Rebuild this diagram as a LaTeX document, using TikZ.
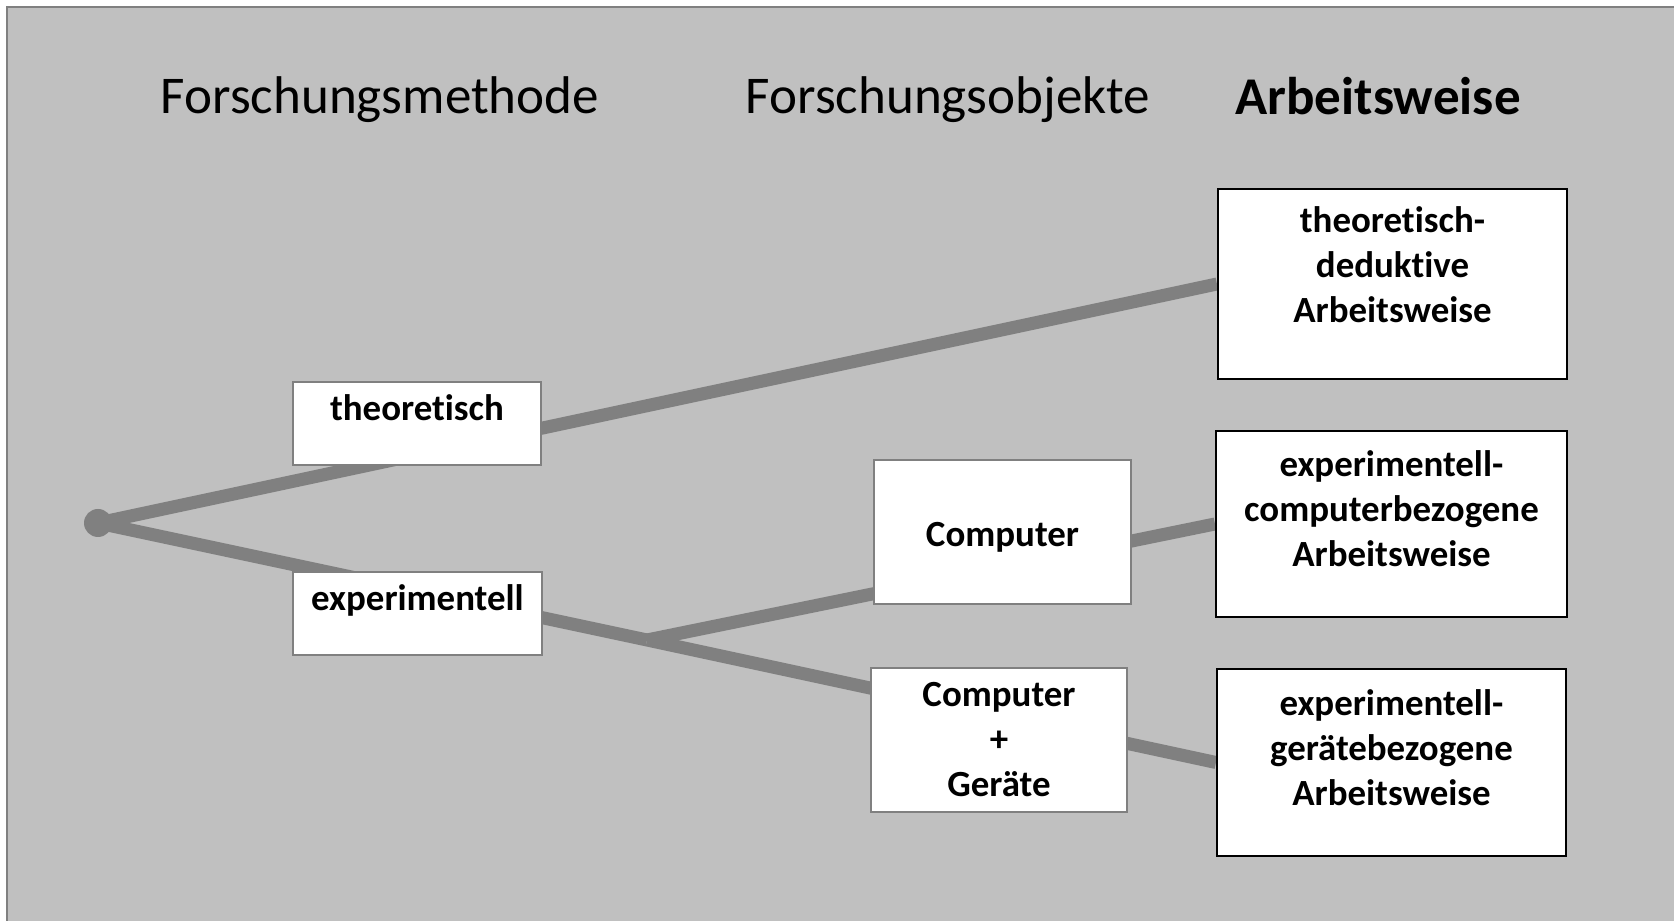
\documentclass[tikz,border=0pt]{standalone}
\usepackage{fontspec}
\setmainfont{Carlito}[Ligatures=NoCommon]
\usetikzlibrary{positioning}
\definecolor{panel}{HTML}{C0C0C0}
\definecolor{branch}{HTML}{808080}
\pgfdeclarelayer{back}
\pgfdeclarelayer{lines}
\pgfsetlayers{back,lines,main}

\begin{document}
\begin{tikzpicture}[
    head/.style={font=\fontsize{15.1}{18}\selectfont, anchor=base},
    lbl/.style={font=\fontsize{10.5}{12.8}\selectfont\bfseries, align=center, inner sep=0pt},
    objbox/.style={draw=branch, line width=0.3pt, fill=white, inner sep=0pt},
    workbox/.style={draw=black, line width=0.6pt, fill=white, inner sep=0pt},
    branchline/.style={draw=branch, line width=1.3mm}
]
\useasboundingbox (0,0) rectangle (16.74,9.21);
\begin{pgfonlayer}{back}
\fill[panel] (0.07,0) rectangle (16.74,9.14);
\draw[branch, line width=0.5pt] (0.07,0) -- (0.07,9.14) -- (16.74,9.14);
\end{pgfonlayer}

% column heads
\node[head] (hmeth) at (3.80,8.07) {Forschungsmethode};
\node[head] (hobj) at (9.48,8.07) {Forschungsobjekte};
\node[head] (hwork) at (13.78,8.06) {\textbf{Arbeitsweise}};

% root and fork
\node[circle, fill=branch, minimum size=0.28cm, inner sep=0pt] (root) at (0.98,3.98) {};
\coordinate (fork) at (6.47,2.81);

% method
\node[objbox, minimum width=2.48cm, minimum height=0.83cm] (theo) at (4.17,4.975) {};
\node[lbl, anchor=base] (theotxt) at (4.17,5.00) {theoretisch};
\node[objbox, minimum width=2.49cm, minimum height=0.83cm] (exp) at (4.175,3.075) {};
\node[lbl, anchor=base] (exptxt) at (4.175,3.10) {experimentell};

% objects
\node[objbox, minimum width=2.57cm, minimum height=1.44cm] (comp) at (10.025,3.89) {};
\node[lbl, anchor=base] (comptxt) at (10.025,3.74) {Computer};
\node[objbox, minimum width=2.56cm, minimum height=1.44cm] (cg) at (9.99,1.81) {};
\node[lbl] (cgtxt) at (cg) {Computer\\+\\Geräte};

% ways of working
\node[workbox, minimum width=3.49cm, minimum height=1.90cm] (ded) at (13.925,6.37) {};
\node[lbl] (dedtxt) at (13.925,6.56) {theoretisch-\\deduktive\\Arbeitsweise};
\node[workbox, minimum width=3.51cm, minimum height=1.86cm] (cbez) at (13.915,3.97) {};
\node[lbl] (cbeztxt) at (13.915,4.125) {experimentell-\\computerbezogene\\Arbeitsweise};
\node[workbox, minimum width=3.49cm, minimum height=1.87cm] (gbez) at (13.915,1.585) {};
\node[lbl] (gbeztxt) at (13.915,1.735) {experimentell-\\gerätebezogene\\Arbeitsweise};

\begin{pgfonlayer}{lines}
\draw[branchline] (root.center) -- (ded.west);
\draw[branchline] (root.center) -- (fork);
\draw[branchline] (fork) -- (cbez.west);
\draw[branchline] (fork) -- (gbez.west);
\end{pgfonlayer}
\end{tikzpicture}
\end{document}
